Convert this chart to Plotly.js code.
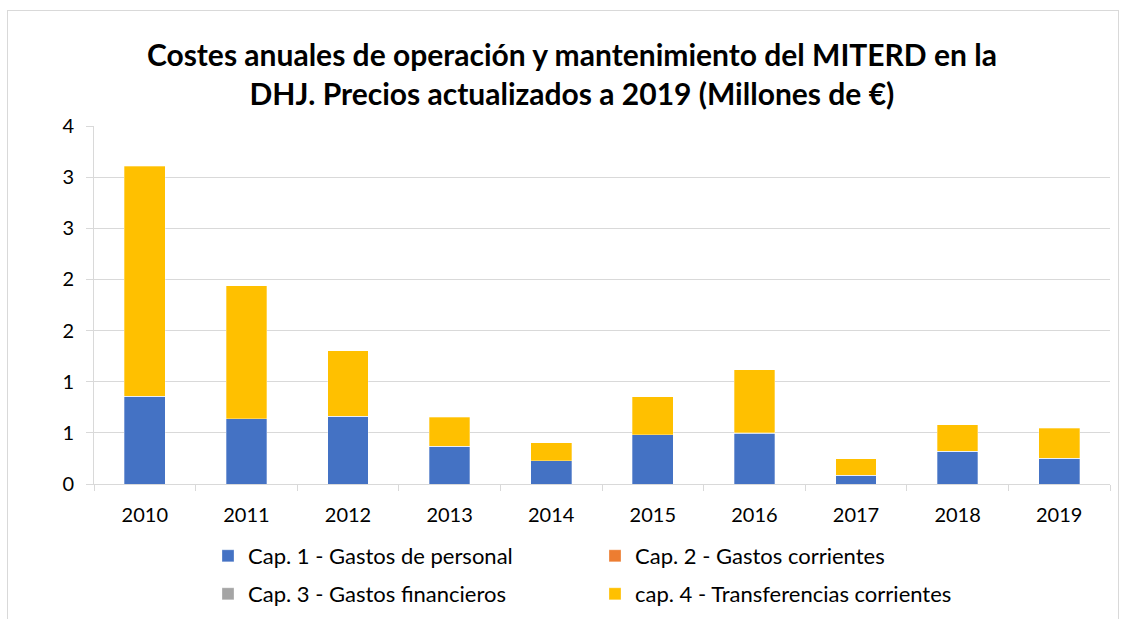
<!DOCTYPE html>
<html>
<head>
<meta charset="utf-8">
<script src="https://cdn.plot.ly/plotly-3.0.1.min.js"></script>
<style>
  html, body { margin: 0; padding: 0; background: #fff; }
  #frame { position: absolute; left: 7px; top: 10px; width: 1110px; height: 640px; border: 1px solid #d9d9d9; border-bottom: none; }
  #chart { position: absolute; left: 0; top: 0; width: 1128px; height: 619px; }
</style>
</head>
<body>
<div id="frame"></div>
<div id="chart"></div>
<script>
const years = ["2010","2011","2012","2013","2014","2015","2016","2017","2018","2019"];
const cap1 = [0.857, 0.639, 0.661, 0.368, 0.225, 0.482, 0.495, 0.084, 0.319, 0.250];
const cap2 = [0, 0, 0, 0, 0, 0, 0, 0, 0, 0];
const cap3 = [0, 0, 0, 0, 0.004, 0, 0.004, 0, 0, 0];
const cap4 = [2.248, 1.300, 0.643, 0.287, 0.175, 0.372, 0.616, 0.164, 0.258, 0.294];
const seriesNames = ["Cap. 1 - Gastos de personal", "Cap. 2 - Gastos corrientes", "Cap. 3 - Gastos financieros", "cap. 4 - Transferencias corrientes"];
const tickVals = [0, 0.5, 1, 1.5, 2, 2.5, 3, 3.5];
const tickText = ["0", "1", "1", "2", "2", "3", "3", "4"];

const colors = ["#4472C4", "#ED7D31", "#A5A5A5", "#FFC000"];
const legendIds = ["legend", "legend2", "legend3", "legend4"];
const allData = [cap1, cap2, cap3, cap4];
const traces = allData.map((vals, i) => ({
  type: "bar",
  x: years,
  y: vals,
  name: seriesNames[i],
  legend: legendIds[i],
  marker: { color: colors[i], line: { color: "rgba(255,255,255,0.6)", width: 0.5 } },
  hoverinfo: "x+y+name"
}));

const ML = 94, MR = 18, MT = 126, MB = 135, W = 1128, H = 619;
const PW = W - ML - MR, PH = H - MT - MB;

function legendAt(xpx, ypx) {
  return {
    xref: "paper", yref: "paper",
    x: (xpx - ML) / PW, xanchor: "left",
    y: (H - MB - ypx) / PH, yanchor: "middle",
    font: { size: 22, color: "#000" },
    bgcolor: "rgba(0,0,0,0)",
    borderwidth: 0
  };
}

const layout = {
  width: W, height: H,
  paper_bgcolor: "rgba(0,0,0,0)",
  plot_bgcolor: "rgba(0,0,0,0)",
  barmode: "stack",
  bargap: 0.6,
  margin: { l: ML, r: MR, t: MT, b: MB, autoexpand: false },
  font: { family: "Lato, 'Open Sans', sans-serif", color: "#000" },
  title: {
    text: "<b>Costes anuales de operación y mantenimiento del MITERD en la<br>DHJ. Precios actualizados a 2019 (Millones de €)</b>",
    font: { size: 30, color: "#000", family: "Lato, sans-serif" },
    x: 0.507, xanchor: "center",
    y: 0.894, yanchor: "top", yref: "container"
  },
  xaxis: {
    type: "category",
    tickson: "boundaries",
    ticks: "outside", ticklen: 6, tickcolor: "#d9d9d9",
    ticklabelstandoff: 13,
    showline: true, linecolor: "#d9d9d9", linewidth: 1,
    showgrid: false,
    automargin: false,
    tickfont: { size: 20 }
  },
  yaxis: {
    range: [0, 3.5],
    tickvals: tickVals, ticktext: tickText,
    showgrid: true, gridcolor: "#d9d9d9", gridwidth: 1,
    ticks: "outside", ticklen: 7, tickcolor: "#d9d9d9",
    ticklabelstandoff: 8,
    showline: true, linecolor: "#d9d9d9",
    zeroline: false,
    automargin: false,
    tickfont: { size: 20 }
  },
  showlegend: true,
  legend: legendAt(208, 556),
  legend2: legendAt(595, 556),
  legend3: legendAt(208, 594),
  legend4: legendAt(595, 594)
};

Plotly.newPlot("chart", traces, layout, { displayModeBar: false, staticPlot: true });
</script>
</body>
</html>
